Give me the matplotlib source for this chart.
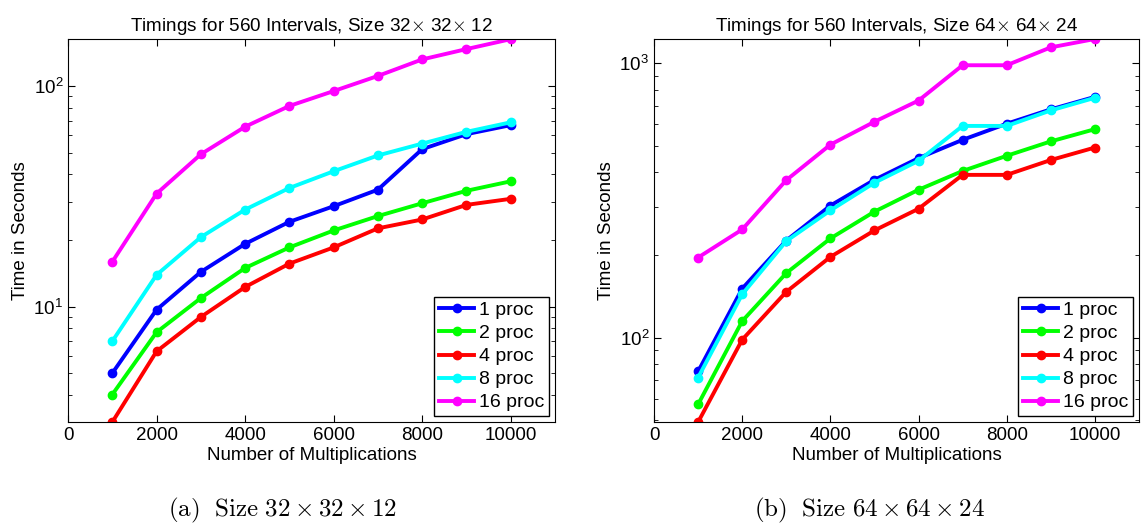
import numpy as np
import matplotlib
matplotlib.use('Agg')
import matplotlib.pyplot as plt

plt.rcParams['font.family'] = ['Liberation Sans', 'DejaVu Sans']
plt.rcParams['mathtext.fontset'] = 'cm'

mults = [1000, 2000, 3000, 4000, 5000, 6000, 7000, 8000, 9000, 10000]
labels = ['1 proc', '2 proc', '4 proc', '8 proc', '16 proc']
colors = ['#0000ff', '#00ff00', '#ff0000', '#00ffff', '#ff00ff']

# size 32 x 32 x 12
small_1 = [5.0, 9.7, 14.4, 19.3, 24.3, 28.6, 34.0, 51.9, 60.7, 66.7]
small_2 = [4.0, 7.67, 10.96, 15.0, 18.6, 22.2, 25.8, 29.5, 33.6, 37.1]
small_4 = [3.0, 6.28, 8.99, 12.3, 15.7, 18.6, 22.7, 24.9, 29.0, 30.9]
small_8 = [6.98, 13.96, 20.7, 27.6, 34.6, 41.2, 48.6, 55.0, 62.2, 68.7]
small_16 = [16.0, 32.6, 49.2, 65.6, 81.5, 95.2, 111.5, 132.5, 147.6, 163.7]

# size 64 x 64 x 24
big_1 = [75.4, 151, 226, 303, 376, 451, 526, 602, 679, 754]
big_2 = [57.2, 115, 172, 230, 288, 346, 405, 460, 519, 575]
big_4 = [49.3, 98.4, 147, 197, 246, 295, 392, 392, 444, 493]
big_8 = [71.6, 144, 225, 291, 367, 441, 591, 591, 673, 748]
big_16 = [196, 248, 375, 505, 612, 731, 983, 983, 1142, 1225]

fig = plt.figure(figsize=(11.41, 5.27), dpi=100)
ax1 = fig.add_axes([0.0596, 0.199, 0.4268, 0.727])
ax2 = fig.add_axes([0.5732, 0.199, 0.4250, 0.727])


def draw(ax, series, title, ylim):
    for vals, lab, c in zip(series, labels, colors):
        ax.semilogy(mults, vals, '-o', color=c, lw=2.8, ms=6, label=lab)
    ax.set_xlim(0, 11000)
    ax.set_ylim(*ylim)
    ax.set_xticks([0, 2000, 4000, 6000, 8000, 10000])
    ax.tick_params(which='both', direction='in', top=True, right=True, labelsize=13.5)
    ax.tick_params(which='major', length=5)
    ax.tick_params(which='minor', length=3)
    ax.set_title(title, fontsize=13.6, pad=6)
    ax.set_xlabel('Number of Multiplications', fontsize=13.5, labelpad=2)
    ax.set_ylabel('Time in Seconds', fontsize=13.5, labelpad=3)
    leg = ax.legend(loc='lower right', fontsize=14, fancybox=False, framealpha=1,
                    edgecolor='black', handlelength=1.8, handletextpad=0.25,
                    labelspacing=0.28, borderpad=0.25, borderaxespad=0.3)
    leg.get_frame().set_linewidth(1.0)


draw(ax1, [small_1, small_2, small_4, small_8, small_16],
     r'Timings for 560 Intervals, Size 32$\times$ 32$\times$ 12', (3.0, 164))
draw(ax2, [big_1, big_2, big_4, big_8, big_16],
     r'Timings for 560 Intervals, Size 64$\times$ 64$\times$ 24', (49.3, 1225))

fig.text(0.248, 0.032, r'$\mathrm{(a)\ \ Size}\ 32 \times 32 \times 12$',
         ha='center', va='center', fontsize=18)
fig.text(0.762, 0.032, r'$\mathrm{(b)\ \ Size}\ 64 \times 64 \times 24$',
         ha='center', va='center', fontsize=18)

fig.savefig('out.png', dpi=100)
